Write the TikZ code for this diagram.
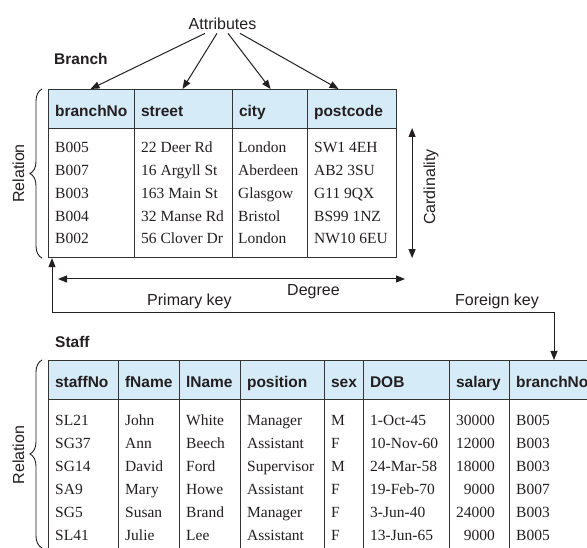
\documentclass[tikz,border=0pt]{standalone}
\usepackage{fontspec}
\setmainfont{Liberation Serif}
\setsansfont{Liberation Sans}
\usetikzlibrary{arrows.meta,decorations.pathreplacing}

\definecolor{ink}{HTML}{231F20}
\definecolor{hdrblue}{HTML}{D5ECF8}
\definecolor{rule}{HTML}{333333}

\tikzset{
  lbl/.style={font=\sffamily\fontsize{16}{19}\selectfont, text=ink, inner sep=0pt},
  title/.style={font=\sffamily\bfseries\fontsize{15.5}{18}\selectfont, text=ink,
    inner sep=0pt, anchor=base west},
  hdr/.style={draw=rule, line width=1.1pt, fill=hdrblue, anchor=north west,
    minimum height=39pt, inner xsep=6.5pt, inner ysep=0pt, text width=#1,
    align=left, text height=15pt, text depth=0pt,
    font=\sffamily\bfseries\fontsize{15.5}{18}\selectfont, text=ink},
  body/.style 2 args={draw=rule, line width=1.1pt, anchor=north west,
    minimum width=#1, minimum height=#2, inner sep=0pt},
  cell/.style={font=\fontsize{15.5}{18}\selectfont, text=ink, inner sep=0pt,
    anchor=base west},
  tip/.tip={Triangle[length=9pt,width=7pt]},
  arr/.style={draw=ink, line width=1pt, -tip},
  dbl/.style={draw=ink, line width=1pt, tip-tip},
  relbrace/.style={draw=ink, line width=0.9pt, decorate,
    decoration={brace, amplitude=12pt}},
}

\begin{document}
\begin{tikzpicture}[x=1pt, y=-1pt]
\useasboundingbox (0,0) rectangle (587,548);
\clip (0,0) rectangle (587,548);

% ---------------- Branch relation ----------------
\node[title] (brT) at (54,65) {Branch};

\node[body={86pt}{129pt}] (bb1) at (48,128) {};
\node[body={98pt}{129pt}] (bb2) at (134,128) {};
\node[body={75pt}{129pt}] (bb3) at (232,128) {};
\node[body={89pt}{129pt}] (bb4) at (307,128) {};

\node[hdr=73pt] (bh1) at (48,89)  {branchNo};
\node[hdr=85pt] (bh2) at (134,89) {street};
\node[hdr=62pt] (bh3) at (232,89) {city};
\node[hdr=76pt] (bh4) at (307,89) {postcode};

\foreach \t [count=\i] in {B005,B007,B003,B004,B002}
  \node[cell] (bd1-\i) at (55,{153+(\i-1)*22.75}) {\t};
\foreach \t [count=\i] in {22 Deer Rd,16 Argyll St,163 Main St,32 Manse Rd,56 Clover Dr}
  \node[cell] (bd2-\i) at (141,{153+(\i-1)*22.75}) {\t};
\foreach \t [count=\i] in {London,Aberdeen,Glasgow,Bristol,London}
  \node[cell] (bd3-\i) at (238,{153+(\i-1)*22.75}) {\t};
\foreach \t [count=\i] in {SW1 4EH,AB2 3SU,G11 9QX,BS99 1NZ,NW10 6EU}
  \node[cell] (bd4-\i) at (314,{153+(\i-1)*22.75}) {\t};

% attribute pointers
\node[lbl, anchor=base] (attr) at (222.5,30) {Attributes};
\draw[arr] ([xshift=-17.5pt,yshift=-3pt]attr.south) -- ([xshift=-1pt]bh1.north);
\draw[arr] ([xshift=-5.5pt,yshift=-3pt]attr.south)  -- ([xshift=-1pt]bh2.north);
\draw[arr] ([xshift=5.5pt,yshift=-3pt]attr.south)   -- ([xshift=0.5pt]bh3.north);
\draw[arr] ([xshift=17.5pt,yshift=-3pt]attr.south)  -- ([xshift=-13.5pt]bh4.north);

% relation brace
\draw[relbrace] ([xshift=-6pt]bb1.south west) -- ([xshift=-6pt]bh1.north west);
\node[lbl, rotate=90, anchor=base] (relB) at (24,173.5) {Relation};

% cardinality
\draw[dbl] ([xshift=15pt]bb4.north east) -- ([xshift=15pt]bb4.south east);
\node[lbl, rotate=90, anchor=base] (card) at (435,187) {Cardinality};

% degree
\coordinate (degL) at (58,279);
\coordinate (degR) at (405,279);
\draw[dbl] (degL) -- (degR);
\node[lbl, anchor=base west] (deg) at (287,296) {Degree};

% ---------------- Staff relation ----------------
\node[title] (stT) at (55,347.5) {Staff};

\node[body={70pt}{160pt}]  (sb1) at (48,399) {};
\node[body={61pt}{160pt}]  (sb2) at (118,399) {};
\node[body={61pt}{160pt}]  (sb3) at (179,399) {};
\node[body={84pt}{160pt}]  (sb4) at (240,399) {};
\node[body={39pt}{160pt}]  (sb5) at (324,399) {};
\node[body={86pt}{160pt}]  (sb6) at (363,399) {};
\node[body={60pt}{160pt}]  (sb7) at (449,399) {};
\node[body={100pt}{160pt}] (sb8) at (509,399) {};

\node[hdr=57pt] (sh1) at (48,360)  {staffNo};
\node[hdr=48pt] (sh2) at (118,360) {fName};
\node[hdr=48pt] (sh3) at (179,360) {lName};
\node[hdr=71pt] (sh4) at (240,360) {position};
\node[hdr=26pt] (sh5) at (324,360) {sex};
\node[hdr=73pt] (sh6) at (363,360) {DOB};
\node[hdr=47pt] (sh7) at (449,360) {salary};
\node[hdr=87pt] (sh8) at (509,360) {branchNo};

\foreach \t [count=\i] in {SL21,SG37,SG14,SA9,SG5,SL41}
  \node[cell] (sd1-\i) at (55,{425+(\i-1)*23}) {\t};
\foreach \t [count=\i] in {John,Ann,David,Mary,Susan,Julie}
  \node[cell] (sd2-\i) at (125,{425+(\i-1)*23}) {\t};
\foreach \t [count=\i] in {White,Beech,Ford,Howe,Brand,Lee}
  \node[cell] (sd3-\i) at (186,{425+(\i-1)*23}) {\t};
\foreach \t [count=\i] in {Manager,Assistant,Supervisor,Assistant,Manager,Assistant}
  \node[cell] (sd4-\i) at (247,{425+(\i-1)*23}) {\t};
\foreach \t [count=\i] in {M,F,M,F,F,F}
  \node[cell] (sd5-\i) at (331,{425+(\i-1)*23}) {\t};
\foreach \t [count=\i] in {1-Oct-45,10-Nov-60,24-Mar-58,19-Feb-70,3-Jun-40,13-Jun-65}
  \node[cell] (sd6-\i) at (370,{425+(\i-1)*23}) {\t};
\foreach \t [count=\i] in {30000,12000,18000,9000,24000,9000}
  \node[cell, anchor=base east] (sd7-\i) at (495,{425+(\i-1)*23}) {\t};
\foreach \t [count=\i] in {B005,B003,B003,B007,B003,B005}
  \node[cell] (sd8-\i) at (516,{425+(\i-1)*23}) {\t};

% relation brace
\coordinate (sbot) at (42,548);
\draw[relbrace] (sbot) -- ([xshift=-6pt]sh1.north west);
\node[lbl, rotate=90, anchor=base] (relS) at (24,455) {Relation};

% primary key / foreign key link
\coordinate (fkturn) at (554,313);
\draw[dbl] ([xshift=4pt]bb1.south west) |- (fkturn) -- (fkturn |- sh8.north);
\node[lbl, anchor=base west] (pk) at (147,306) {Primary key};
\node[lbl, anchor=base west] (fk) at (455,306) {Foreign key};

\end{tikzpicture}
\end{document}
